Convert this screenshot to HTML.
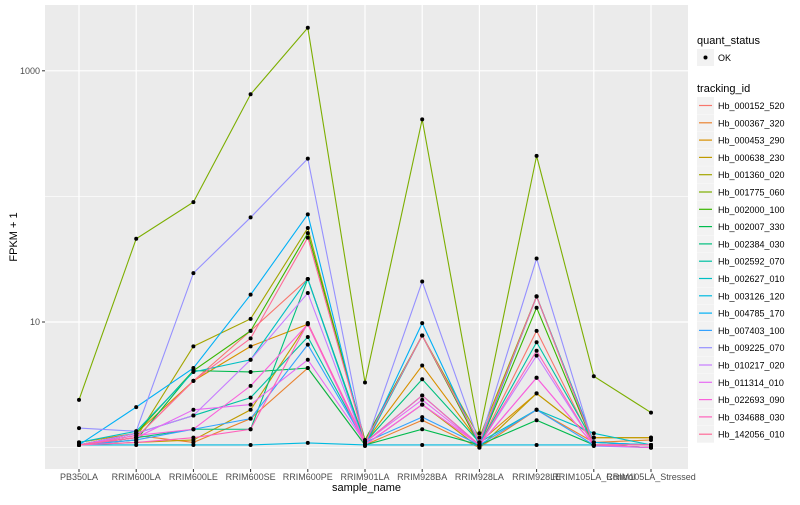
<!DOCTYPE html>
<html><head><meta charset="utf-8"><style>
body{margin:0;background:#fff;font-family:"Liberation Sans",sans-serif;}
svg text{font-family:"Liberation Sans",sans-serif;}
</style></head><body>
<svg id="chart" width="800" height="500" xmlns="http://www.w3.org/2000/svg"></svg>
<script>
const categories=["PB350LA","RRIM600LA","RRIM600LE","RRIM600SE","RRIM600PE","RRIM901LA","RRIM928BA","RRIM928LA","RRIM928LE","RRIM105LA_Control","RRIM105LA_Stressed"];
const seriesNames=["Hb_000152_520","Hb_000367_320","Hb_000453_290","Hb_000638_230","Hb_001360_020","Hb_001775_060","Hb_002000_100","Hb_002007_330","Hb_002384_030","Hb_002592_070","Hb_002627_010","Hb_003126_120","Hb_004785_170","Hb_007403_100","Hb_009225_070","Hb_010217_020","Hb_011314_010","Hb_022693_090","Hb_034688_030","Hb_142056_010"];
const seriesColors=["#F8766D","#EA8331","#D89000","#C09B00","#A3A500","#7CAE00","#39B600","#00BB4E","#00BF7D","#00C1A3","#00BFC4","#00BAE0","#00B0F6","#35A2FF","#9590FF","#C77CFF","#E76BF3","#FA62DB","#FF62BC","#FF6A98"];
const s000152=[1.05,1.2,3.4,8.5,22,1.1,7.8,1.05,8.5,1.05,1.0];
const s000367=[1.05,1.25,1.1,1.7,4.3,1.05,1.65,1.0,2.0,1.1,1.15];
const s000453=[1.1,1.3,3.4,6.4,9.6,1.1,4.5,1.1,2.7,1.2,1.2];
const s000638=[1.05,1.1,1.15,2.0,9.8,1.05,2.2,1.0,2.7,1.2,1.2];
const s001360=[1.05,1.2,6.4,10.6,56,1.1,7.8,1.2,16,1.1,1.05];
const s001775=[2.4,46,90,650,2200,3.3,410,1.3,210,3.7,1.9];
const s002000=[1.05,1.3,4.1,8.5,51,1.15,7.8,1.05,13,1.05,1.0];
const s002007=[1.05,1.15,4.1,4.0,4.3,1.05,1.4,1.05,1.65,1.05,1.0];
const s002384=[1.05,1.2,1.4,1.4,22,1.1,3.5,1.1,16,1.05,1.0];
const s002592=[1.05,1.3,1.8,2.5,7.6,1.1,2.6,1.05,6.9,1.1,1.05];
const s002627=[1.1,1.35,4.0,5.0,22,1.05,7.8,1.1,2.0,1.3,1.05];
const s003126=[1.05,1.05,1.05,1.05,1.09,1.05,1.05,1.05,1.05,1.05,1.05];
const s004785=[1.05,2.1,4.3,16.5,72,1.05,9.8,1.05,16,1.1,1.05];
const s007403=[1.05,1.15,1.4,1.7,6.6,1.1,1.75,1.05,2.0,1.05,1.05];
const s009225=[1.43,1.35,24.5,68,200,1.03,21,1.09,32,1.03,1.0];
const s010217=[1.05,1.3,1.8,5.0,17,1.05,2.2,1.05,5.4,1.05,1.05];
const s011314=[1.05,1.2,2.0,2.2,5.0,1.1,2.4,1.05,3.6,1.05,1.05];
const s022693=[1.05,1.25,1.4,3.1,9.6,1.05,2.2,1.05,3.6,1.05,1.0];
const s034688=[1.05,1.1,1.2,1.4,9.8,1.1,2.6,1.05,5.9,1.05,1.05];
const s142056=[1.05,1.2,3.4,7.4,47,1.1,7.8,1.1,16,1.05,1.05];
const seriesValues=[s000152,s000367,s000453,s000638,s001360,s001775,s002000,s002007,s002384,s002592,s002627,s003126,s004785,s007403,s009225,s010217,s011314,s022693,s034688,s142056];
const majorTicks=[10,1000];
const majorLabels=["10","1000"];
const minorTicks=[1,100];

const NS="http://www.w3.org/2000/svg";
const svg=document.getElementById('chart');
const P={l:45,r:688,t:5,b:469};
function xS(i){return 79+i*57.2;}
function yS(v){return 322-(Math.log10(v)-1)*125.6;}
function mk(tag,attrs,parent){const e=document.createElementNS(NS,tag);for(const k in attrs)e.setAttribute(k,attrs[k]);(parent||svg).appendChild(e);return e;}

const panel=mk('rect',{x:P.l,y:P.t,width:P.r-P.l,height:P.b-P.t,fill:'#EBEBEB'});


minorTicks.forEach(v=>{const g=mk('line',{x1:P.l,x2:P.r,y1:yS(v),y2:yS(v),stroke:'#fff','stroke-width':0.6});

});
majorTicks.forEach((v,i)=>{const g=mk('line',{x1:P.l,x2:P.r,y1:yS(v),y2:yS(v),stroke:'#fff','stroke-width':1.2});


const t=mk('line',{x1:P.l-3,x2:P.l,y1:yS(v),y2:yS(v),stroke:'#333','stroke-width':1});


const l=mk('text',{x:P.l-5,y:yS(v)+3,'text-anchor':'end','font-size':9,fill:'#4D4D4D'});l.textContent=majorLabels[i];

});
categories.forEach((c,i)=>{const g=mk('line',{x1:xS(i),x2:xS(i),y1:P.t,y2:P.b,stroke:'#fff','stroke-width':1.2});


const t=mk('line',{x1:xS(i),x2:xS(i),y1:P.b,y2:P.b+3,stroke:'#333','stroke-width':1});


const l=mk('text',{x:xS(i),y:P.b+11,'text-anchor':'middle','font-size':9,fill:'#4D4D4D'});l.textContent=c;

});
seriesValues.forEach((vals,k)=>{const pl=mk('polyline',{points:vals.map((v,i)=>xS(i)+','+yS(v)).join(' '),fill:'none',stroke:seriesColors[k],'stroke-width':1.1});

});
seriesValues.forEach((vals,k)=>{vals.forEach((v,i)=>{const c=mk('circle',{cx:xS(i),cy:yS(v),r:2,fill:'#000'});

});});
const xt=mk('text',{x:(P.l+P.r)/2,y:491,'text-anchor':'middle','font-size':11,fill:'#000'});xt.textContent='sample_name';


const yt=mk('text',{x:0,y:0,transform:'translate(17,237) rotate(-90)','text-anchor':'middle','font-size':11,fill:'#000'});yt.textContent='FPKM + 1';


const qt=mk('text',{x:697,y:44,'font-size':11,fill:'#000'});qt.textContent='quant_status';


const qb=mk('rect',{x:697,y:49,width:17,height:17,fill:'#F2F2F2'});


const qd=mk('circle',{cx:705.5,cy:57.5,r:2,fill:'#000'});


const ql=mk('text',{x:718,y:61,'font-size':9,fill:'#000'});ql.textContent='OK';


const tt=mk('text',{x:697,y:92,'font-size':11,fill:'#000'});tt.textContent='tracking_id';


seriesNames.forEach((n,k)=>{const y0=97+k*17.3;
const b=mk('rect',{x:697,y:y0,width:17,height:17,fill:'#F2F2F2'});


const ln=mk('line',{x1:699,x2:712,y1:y0+8.5,y2:y0+8.5,stroke:seriesColors[k],'stroke-width':1.2});


const t=mk('text',{x:718,y:y0+12,'font-size':9,fill:'#000'});t.textContent=n;

});
</script>
</body></html>
